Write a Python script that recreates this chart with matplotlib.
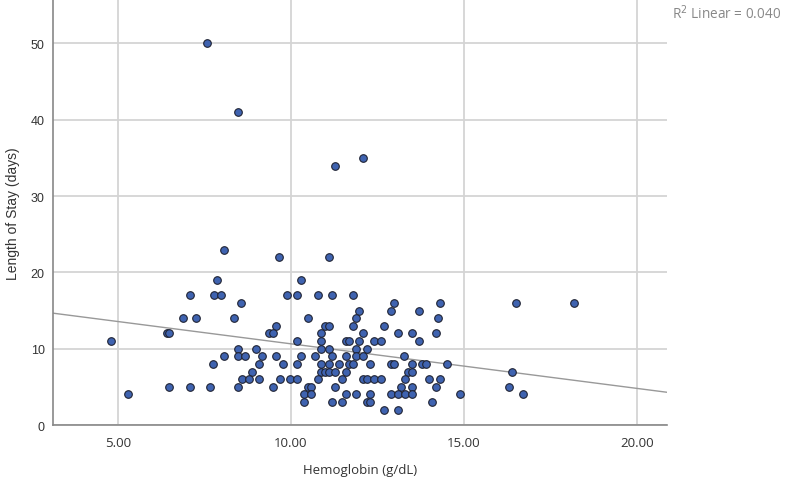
#Scatter plot of length of stay against hemoglobin with a linear fit line

import matplotlib.pyplot as plt
import numpy as np

#values, grouped by length of stay (days)
stay_days = [50, 41, 35, 34, 23, 22, 19, 17, 16, 15, 14, 13, 12, 11, 10, 9, 8, 7, 6, 5, 4, 3, 2]
hemoglobin = {
    50: [7.57],
    41: [8.47],
    35: [12.08],
    34: [11.28],
    23: [8.06],
    22: [9.66, 11.09],
    19: [7.87, 10.28],
    17: [7.07, 7.76, 7.97, 9.88, 10.18, 10.78, 11.18, 11.78],
    16: [8.56, 12.99, 14.30, 16.50, 18.18],
    15: [11.98, 12.89, 13.69],
    14: [6.87, 7.25, 8.36, 10.48, 11.89, 14.25],
    13: [9.58, 10.98, 11.09, 11.78, 12.69],
    12: [6.41, 6.47, 9.37, 9.49, 10.88, 12.09, 13.09, 13.50, 14.19],
    11: [4.79, 10.18, 10.88, 11.58, 11.68, 11.98, 12.39, 12.59, 13.69],
    10: [8.47, 8.98, 10.88, 11.09, 11.89, 12.19],
    9: [8.06, 8.47, 8.67, 9.17, 9.58, 10.28, 10.68, 11.18, 11.58, 11.89, 12.09, 13.28],
    8: [7.75, 9.08, 9.78, 10.18, 10.88, 11.09, 11.39, 11.68, 11.78, 12.28, 12.89,
        12.99, 13.50, 13.79, 13.89, 14.50],
    7: [8.87, 10.88, 10.98, 11.09, 11.28, 11.58, 13.39, 13.50, 16.40],
    6: [8.57, 8.78, 9.08, 9.67, 9.98, 10.18, 10.78, 11.48, 12.09, 12.19, 12.39,
        12.59, 13.29, 13.99, 14.30],
    5: [6.47, 7.07, 7.67, 8.47, 9.47, 10.48, 10.58, 11.28, 13.19, 13.50, 14.19, 16.30],
    4: [5.29, 10.38, 10.58, 11.58, 11.89, 12.28, 12.89, 13.09, 13.29, 13.50, 14.89, 16.71],
    3: [10.38, 11.18, 11.48, 12.19, 12.28, 14.09],
    2: [12.69, 13.09],
}

#fit line
fit_intercept = 16.48
fit_slope = -0.584
r_squared = 0.040

x_ticks = [5, 10, 15, 20]
y_ticks = [0, 10, 20, 30, 40, 50]

#flatten the groups into point lists
xs = []
ys = []
for days in stay_days:
    for value in hemoglobin[days]:
        xs.append(value)
        ys.append(days)

fig = plt.figure(figsize=(7.9, 4.85), dpi=100)
ax = fig.add_axes([0.0671, 0.1216, 0.7772, 0.8764])

xmin, xmax = 3.12, 20.87
ax.set_xlim(xmin, xmax)
ax.set_ylim(0, 55.7)

#grid
ax.set_axisbelow(True)
ax.grid(True, color='#d4d4d4', linewidth=1.3)

#fit line
line_x = np.array([xmin, xmax])
ax.plot(line_x, fit_intercept + fit_slope * line_x, color='#999999', linewidth=1.0, zorder=2)

#points
ax.scatter(xs, ys, s=30, facecolor='#3f63b0', edgecolor='#1f2333', linewidth=0.8, zorder=3)

#axes styling
for side in ['top', 'right']:
    ax.spines[side].set_visible(False)
for side in ['left', 'bottom']:
    ax.spines[side].set_color('#888888')
    ax.spines[side].set_linewidth(1.2)

ax.set_xticks(x_ticks)
ax.set_xticklabels(["%.2f" % v for v in x_ticks], fontfamily='Open Sans', fontsize=9.5, color='#333333')
ax.set_yticks(y_ticks)
ax.set_yticklabels([str(v) for v in y_ticks], fontfamily='Liberation Sans', fontsize=9, color='#333333')
ax.tick_params(axis='both', length=0)
ax.tick_params(axis='x', pad=8)
ax.tick_params(axis='y', pad=6)

ax.set_xlabel("Hemoglobin (g/dL)", fontfamily='Open Sans', fontsize=9.5, color='#333333', labelpad=10)
ax.set_ylabel("Length of Stay (days)", fontfamily='Liberation Sans', fontsize=10, color='#333333', labelpad=8)

fig.text(672 / 790, 1 - 14 / 485, "R$^{2}$ Linear = %.3f" % r_squared, fontfamily='Open Sans',
         fontsize=9.8, color='#888888', va='center', ha='left')

fig.savefig("out.png", dpi=100)
